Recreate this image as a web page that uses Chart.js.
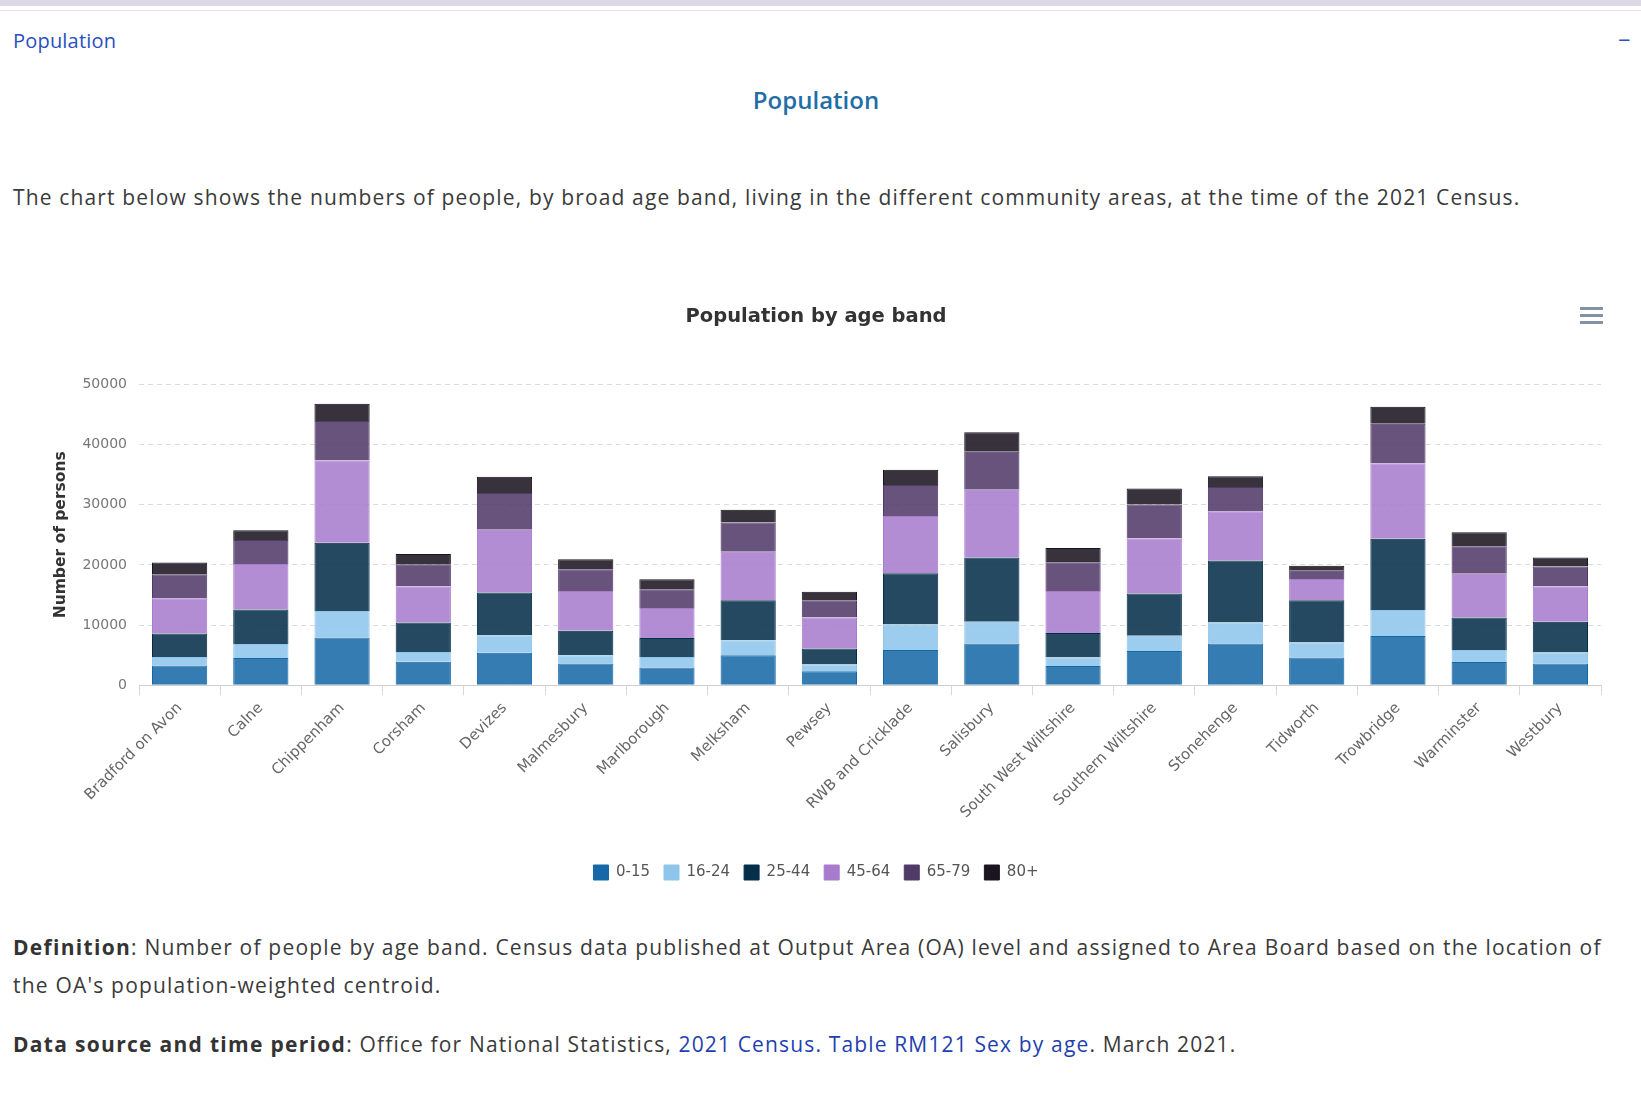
<!DOCTYPE html>
<html>
<head>
<meta charset="utf-8">
<title>Population</title>
<script src="https://cdn.jsdelivr.net/npm/chart.js@4.4.1/dist/chart.umd.min.js"></script>
<style>
    body { margin: 0; background: #fff; width: 1641px; height: 1097px; position: relative; overflow: hidden;
           font-family: "Open Sans", sans-serif; color: #333; }
    .topbar { position: absolute; left: 0; top: 0; width: 100%; height: 6px; background: #dcd8e6; }
    .topline { position: absolute; left: 0; top: 10px; width: 100%; height: 1px; background: #e3e3e3; }
    .crumb { position: absolute; left: 13px; top: 27px; font-size: 20px; letter-spacing: 0.2px; color: #2a4fc0; text-decoration: none; }
    .minus { position: absolute; left: 1618px; top: 24px; font-size: 22px; color: #2a4fc0; }
    h2 { position: absolute; left: 0; width: 1632px; top: 83px; margin: 0; text-align: center;
         font-size: 24px; font-weight: 600; color: #1f6ea8; }
    .txt { position: absolute; left: 13px; margin: 0; font-size: 21px; letter-spacing: 1.15px; line-height: 38px;
           white-space: nowrap; color: #3a3a3a; }
    .intro { top: 178px; }
    .def { top: 928px; letter-spacing: 1.2px; }
    .src { top: 1025px; }
    .txt b { color: #333; letter-spacing: 1.3px; }
    .src a { color: #1f3fb0; text-decoration: none; }
    #chartBox { position: absolute; left: 31px; top: 290px; width: 1610px; height: 600px; }
    .burger { position: absolute; left: 1580px; top: 307px; width: 23px; }
    .burger span { display: block; height: 3px; background: #8592a6; margin-bottom: 4px; }
</style>
</head>
<body>
<div class="topbar"></div>
<div class="topline"></div>
<a class="crumb">Population</a>
<span class="minus">&minus;</span>
<h2>Population</h2>
<p class="txt intro">The chart below shows the numbers of people, by broad age band, living in the different community areas, at the time of the 2021 Census.</p>
<div id="chartBox"><canvas id="popChart"></canvas></div>
<div class="burger"><span></span><span></span><span></span></div>
<p class="txt def"><b>Definition</b>: Number of people by age band. Census data published at Output Area (OA) level and assigned to Area Board based on the location of<br>the OA's population-weighted centroid.</p>
<p class="txt src"><b>Data source and time period</b>: Office for National Statistics, <a>2021 Census. Table RM121 Sex by age</a>. March 2021.</p>

<script>
const areas = ['Bradford on Avon', 'Calne', 'Chippenham', 'Corsham', 'Devizes', 'Malmesbury',
    'Marlborough', 'Melksham', 'Pewsey', 'RWB and Cricklade', 'Salisbury', 'South West Wiltshire',
    'Southern Wiltshire', 'Stonehenge', 'Tidworth', 'Trowbridge', 'Warminster', 'Westbury'];

const bandNames = ['0-15', '16-24', '25-44', '45-64', '65-79', '80+'];

const age0to15  = [3300, 4550, 7950, 3900, 5400, 3600, 2950, 5000, 2350, 5850, 6950, 3200, 5700, 6950, 4600, 8200, 3850, 3600];
const age16to24 = [1400, 2300, 4400, 1650, 2900, 1400, 1750, 2500, 1100, 4250, 3600, 1400, 2550, 3500, 2500, 4300, 2000, 1850];
const age25to44 = [3900, 5750, 11350, 4900, 7100, 4050, 3150, 6650, 2650, 8500, 10700, 4100, 7000, 10300, 7050, 11850, 5400, 5100];
const age45to64 = [5850, 7550, 13650, 5950, 10450, 6600, 5000, 8050, 5150, 9550, 11250, 6950, 9150, 8150, 3500, 12500, 7300, 5850];
const age65to79 = [4000, 4000, 6550, 3700, 6100, 3650, 3100, 4850, 2900, 5150, 6300, 4800, 5650, 4050, 1400, 6600, 4550, 3350];
const age80plus = [1950, 1600, 2900, 1700, 2700, 1650, 1650, 2100, 1400, 2500, 3250, 2350, 2650, 1800, 800, 2850, 2350, 1500];

const yTicks = [0, 10000, 20000, 30000, 40000, 50000];

// base colours of each band, bars are filled a bit see-through like the original
const bandColors = [[22, 104, 166], [142, 197, 235], [4, 46, 74], [168, 124, 204], [80, 58, 104], [26, 20, 32]];
const bandValues = [age0to15, age16to24, age25to44, age45to64, age65to79, age80plus];

const datasets = bandNames.map((name, i) => {
    const c = bandColors[i];
    return {
        label: name,
        data: bandValues[i],
        backgroundColor: `rgba(${c[0]},${c[1]},${c[2]},0.87)`,
        borderColor: `rgb(${c[0]},${c[1]},${c[2]})`,
        borderWidth: 1,
        categoryPercentage: 1,
        barPercentage: 0.68
    };
});

const ctx = document.getElementById('popChart').getContext('2d');

new Chart(ctx, {
    type: 'bar',
    data: { labels: areas, datasets: datasets },
    options: {
        responsive: true,
        maintainAspectRatio: false,
        animation: false,
        layout: { padding: { left: 0, right: 40, top: 0, bottom: 0 } },
        plugins: {
            title: {
                display: true,
                text: 'Population by age band',
                color: '#333',
                font: { family: 'DejaVu Sans', size: 19.5, weight: 'bold' },
                padding: { top: 15, bottom: 56 }
            },
            legend: {
                position: 'bottom',
                labels: {
                    boxWidth: 15,
                    boxHeight: 15,
                    padding: 14,
                    color: '#555',
                    font: { family: 'DejaVu Sans', size: 15 },
                    // legend boxes use the solid colour
                    generateLabels: chart => Chart.defaults.plugins.legend.labels.generateLabels(chart)
                        .map(item => Object.assign(item, { fillStyle: item.strokeStyle }))
                }
            },
            tooltip: { enabled: false }
        },
        scales: {
            x: {
                stacked: true,
                grid: { drawOnChartArea: false, drawTicks: true, tickLength: 10, color: '#d8d8d8', offset: true },
                border: { color: '#cfcfcf' },
                ticks: {
                    maxRotation: 45,
                    minRotation: 45,
                    autoSkip: false,
                    padding: 4,
                    color: '#666',
                    font: { family: 'DejaVu Sans', size: 15 }
                },
                // empty title, only used as a gap above the legend
                title: { display: true, text: ' ', font: { size: 1 }, padding: { top: 0, bottom: 24 } }
            },
            y: {
                stacked: true,
                min: 0,
                max: 50000,
                afterBuildTicks: axis => { axis.ticks = yTicks.map(v => ({ value: v })); },
                // fixed width so the plot starts where the original one does
                afterFit: axis => { axis.width = 108; },
                grid: { color: '#dcdcdc', drawTicks: false },
                border: { display: false, dash: [5, 4] },
                ticks: {
                    padding: 12,
                    color: '#777',
                    font: { family: 'DejaVu Sans', size: 14 },
                    callback: v => String(v)
                },
                title: {
                    display: true,
                    text: 'Number of persons',
                    color: '#333',
                    font: { family: 'DejaVu Sans', size: 15.5, weight: 'bold' },
                    padding: { top: 21, bottom: 0 }
                }
            }
        }
    }
});
</script>
</body>
</html>
